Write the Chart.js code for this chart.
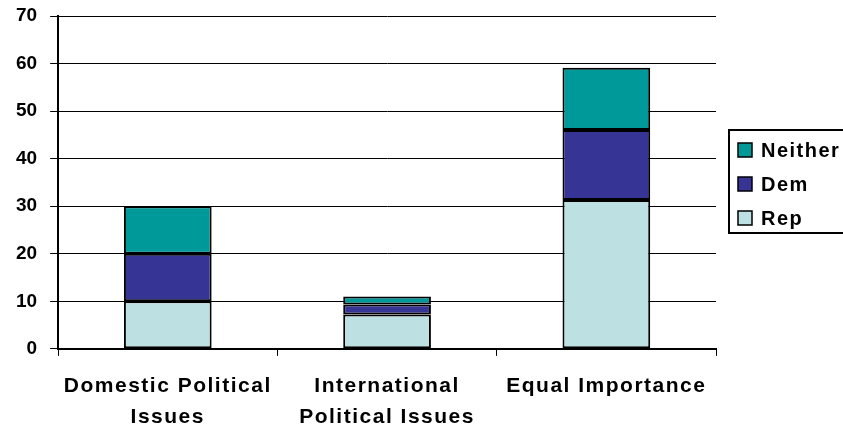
<!DOCTYPE html>
<html><head><meta charset="utf-8">
<script src="https://cdn.jsdelivr.net/npm/chart.js@4/dist/chart.umd.min.js"></script>
<style>html,body{margin:0;padding:0;background:#fff}#wrap{width:843px;height:432px}</style>
</head><body><div id="wrap"><canvas id="c" width="843" height="432"></canvas></div>
<script>
const categories = [["Domestic Political","Issues"],["International","Political Issues"],"Equal Importance"];
const rep = [10, 7.2, 31.3];
const dem = [10, 2.1, 14.7];
const neither = [10, 1.7, 13.1];
const yTicks = [0,10,20,30,40,50,60,70];

const FONT = "'Liberation Sans', Arial, sans-serif";

const spacingPlugin = {
  id: 'spacing',
  beforeDraw(chart) { chart.ctx.letterSpacing = '1.5px'; },
  beforeDatasetsDraw(chart) { chart.ctx.letterSpacing = '0px'; }
};

const legendPlugin = {
  id: 'boxLegend',
  afterDraw(chart) {
    const ctx = chart.ctx;
    ctx.save();
    ctx.strokeStyle = '#000';
    ctx.lineWidth = 2;
    ctx.strokeRect(729, 130, 120, 103);
    const ds = chart.data.datasets.slice().reverse();
    ctx.font = 'bold 20px ' + FONT;
    ctx.letterSpacing = '1.5px';
    ctx.textBaseline = 'middle';
    ds.forEach((d, i) => {
      const cy = 150 + i * 34;
      ctx.fillStyle = d.backgroundColor;
      ctx.fillRect(738, cy - 7, 14, 14);
      ctx.lineWidth = 1.5;
      ctx.strokeStyle = '#000';
      ctx.strokeRect(738, cy - 7, 14, 14);
      ctx.fillStyle = '#000';
      ctx.fillText(d.label, 761, cy + 1);
    });
    ctx.letterSpacing = '0px';
    ctx.restore();
  }
};

new Chart(document.getElementById('c'), {
  type: 'bar',
  data: {
    labels: categories,
    datasets: [
      {label: 'Rep', data: rep, backgroundColor: '#BDE1E3', borderColor: '#000', borderWidth: 2, borderSkipped: false},
      {label: 'Dem', data: dem, backgroundColor: '#363596', borderColor: '#000', borderWidth: 2, borderSkipped: false},
      {label: 'Neither', data: neither, backgroundColor: '#009999', borderColor: '#000', borderWidth: 2, borderSkipped: false}
    ]
  },
  options: {
    responsive: false,
    animation: false,
    devicePixelRatio: 1,
    layout: {padding: {top: 0, right: 127, left: 3, bottom: -16}},
    plugins: {legend: {display: false}, tooltip: {enabled: false}},
    datasets: {bar: {categoryPercentage: 0.4, barPercentage: 1.0}},
    scales: {
      x: {
        stacked: true,
        grid: {offset: true, drawOnChartArea: false, color: '#000', lineWidth: 1, tickLength: 7},
        border: {display: true, color: '#000', width: 2},
        ticks: {z: 0, color: '#000', font: {family: FONT, size: 21, weight: 'bold', lineHeight: 1.48}, padding: 15, maxRotation: 0, autoSkip: false}
      },
      y: {
        stacked: true,
        min: 0, max: 70,
        afterBuildTicks: (s) => { s.ticks = yTicks.map(v => ({value: v})); },
        afterFit: (s) => { s.paddingTop = 16; },
        grid: {color: '#000', lineWidth: 1, tickLength: 8},
        border: {display: true, color: '#000', width: 2},
        ticks: {z: 1, color: '#000', font: {family: FONT, size: 19, weight: 'bold'}, padding: 13}
      }
    }
  },
  plugins: [spacingPlugin, legendPlugin]
});
</script></body></html>
